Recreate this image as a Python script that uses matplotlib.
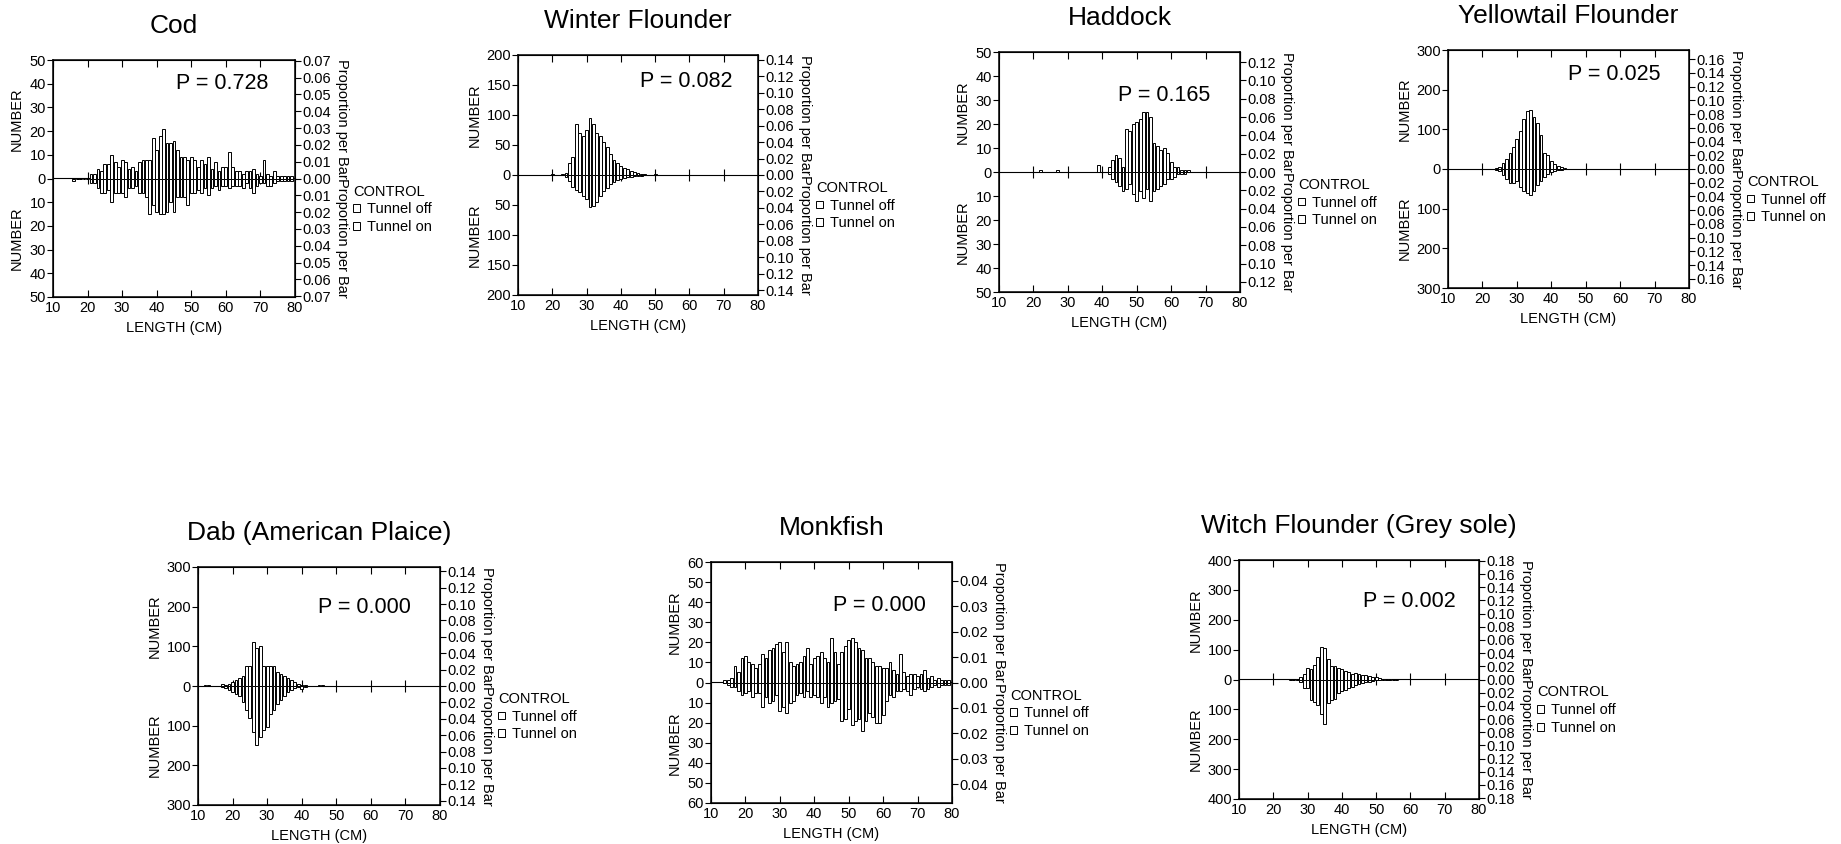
import numpy as np
import matplotlib
matplotlib.use('Agg')
import matplotlib.pyplot as plt
from matplotlib.patches import Patch

plt.rcParams['font.family'] = ['Liberation Sans', 'DejaVu Sans']

# length frequencies in 1 cm bins: tunnel off drawn upward, tunnel on downward
cod_start = 16
cod_off = [0, 0, 0, 0, 0,
           2, 2, 4, 3, 6, 6, 10, 7, 5,
           8, 7, 4, 5, 3, 7, 8, 8, 8, 17,
           12, 18, 21, 15, 15, 16, 12, 9, 9, 8,
           9, 8, 5, 8, 6, 9, 4, 7, 3, 5,
           5, 11, 5, 3, 3, 2, 3, 3, 4, 2,
           1, 8, 2, 1, 3, 1, 1, 1, 1, 1]
cod_on = [1, 0, 0, 0, 0,
          2, 2, 4, 6, 6, 5, 10, 6, 6,
          6, 8, 4, 4, 3, 6, 6, 8, 15, 11,
          14, 15, 15, 14, 10, 14, 8, 8, 8, 11,
          6, 6, 5, 6, 4, 7, 4, 3, 5, 3,
          3, 4, 3, 3, 3, 4, 2, 4, 6, 3,
          2, 2, 3, 3, 2, 1, 1, 1, 1, 1]

wf_start = 20
wf_off = [1, 0, 0, 1, 3, 20, 30, 85, 70, 65,
          75, 95, 85, 70, 65, 55, 47, 35, 25, 20,
          15, 12, 10, 6, 5, 3, 1, 1, 0, 0, 1]
wf_on = [0, 0, 0, 0, 3, 10, 20, 25, 28, 35,
         40, 54, 52, 45, 35, 27, 22, 15, 12, 8,
         6, 5, 4, 3, 2, 1, 1, 0, 0, 0, 0]

had_start = 20
had_off = [0, 0, 1, 0, 0, 0, 0, 1, 0, 0,
           0, 0, 0, 0, 0, 0, 0, 0, 0, 3,
           0, 0, 2, 5, 7, 6, 2, 18, 17, 20,
           21, 22, 25, 25, 23, 12, 11, 9, 10, 8,
           4, 2, 2, 1, 1, 1, 0]
had_on = [0, 0, 0, 0, 0, 0, 0, 0, 0, 0,
          0, 0, 0, 0, 0, 0, 0, 0, 0, 0,
          0, 0, 1, 3, 4, 6, 8, 7, 5, 9,
          12, 8, 11, 7, 12, 8, 7, 6, 5, 3,
          3, 2, 1, 1, 1, 0, 0]

yt_start = 22
yt_off = [0, 1, 2, 5, 15, 25, 40, 55, 75, 95,
          125, 145, 150, 130, 115, 85, 40, 35, 20, 12,
          8, 4, 2, 1, 1]
yt_on = [0, 1, 2, 5, 15, 25, 35, 35, 30, 45,
         55, 60, 65, 55, 40, 30, 20, 12, 8, 5,
         3, 2, 1, 0, 0]

dab_start = 12
dab_off = [2, 2, 1, 0, 0, 4, 2, 5, 10, 15,
           20, 25, 50, 50, 110, 95, 100, 50, 50, 50,
           50, 35, 30, 25, 20, 15, 10, 5, 3, 2,
           0, 0, 0, 2, 2, 0]
dab_on = [1, 1, 0, 0, 0, 3, 5, 10, 15, 20,
          25, 40, 60, 80, 115, 148, 128, 112, 103, 70,
          60, 45, 35, 25, 15, 10, 6, 3, 8, 2,
          0, 0, 0, 0, 0, 0]

mk_start = 14
mk_off = [1, 1, 2, 8, 5, 12,
          13, 10, 9, 7, 9, 14, 12, 16, 17, 19,
          20, 15, 20, 10, 8, 9, 10, 13, 17, 9,
          12, 13, 15, 12, 10, 22, 15, 9, 15, 18,
          21, 22, 20, 17, 16, 12, 12, 10, 8, 8,
          7, 7, 10, 6, 4, 14, 5, 3, 4, 4,
          3, 4, 6, 2, 3, 1, 2, 1, 1, 1]
mk_on = [0, 1, 2, 2, 4, 6,
         5, 4, 7, 5, 5, 12, 7, 10, 9, 6,
         14, 12, 15, 10, 9, 6, 5, 7, 4, 7,
         6, 7, 10, 7, 12, 10, 9, 8, 19, 18,
         13, 21, 19, 18, 24, 19, 15, 17, 20, 20,
         16, 9, 6, 7, 4, 4, 3, 4, 6, 3,
         2, 3, 4, 3, 2, 1, 2, 1, 1, 1]

wt_start = 25
wt_off = [0, 0, 2, 10, 20, 40, 35, 50, 75, 110,
          105, 70, 45, 45, 40, 35, 30, 25, 20, 22,
          18, 15, 15, 12, 10, 8, 5, 3, 2, 1,
          0, 0]
wt_on = [0, 0, 2, 8, 30, 30, 70, 75, 85, 115,
         150, 80, 70, 65, 45, 40, 35, 30, 25, 20,
         15, 12, 10, 8, 5, 3, 2, 1, 0, 0,
         0, 0]

W, H = 1841, 844
fig = plt.figure(figsize=(W / 100, H / 100), dpi=100)


def panel(box, title, start, off, on, nmax, nstep, pedge, ptop, pstep, ptext, pxy):
    l, t, r, b = box
    ax = fig.add_axes([l / W, 1 - b / H, (r - l) / W, (b - t) / H])
    x = np.arange(start, start + len(off))
    ax.bar(x, off, width=0.8, color='white', edgecolor='black', linewidth=0.7)
    ax.bar(x, -np.array(on), width=0.8, color='white', edgecolor='black', linewidth=0.7)
    ax.set_xlim(10, 80)
    ax.set_ylim(-nmax, nmax)
    ax.set_xticks(np.arange(10, 81, 10))
    yt = np.arange(-nmax, nmax + 1, nstep)
    ax.set_yticks(yt)
    ax.set_yticklabels([str(abs(v)) for v in yt])
    ax.tick_params(axis='x', direction='in', top=True, length=5, labelsize=10.5, pad=3)
    ax.tick_params(axis='y', direction='out', length=4, labelsize=10.5, pad=1)
    for s in ax.spines.values():
        s.set_linewidth(1.1)

    # zero line with crossing ticks
    zx = ax.secondary_xaxis(0.5)
    zx.set_xticks(np.arange(20, 71, 10))
    zx.set_xticklabels([])
    zx.tick_params(direction='inout', length=8)
    zx.spines['bottom'].set_linewidth(1.1)

    ax2 = ax.twinx()
    ax2.set_ylim(-pedge, pedge)
    n = int(round(ptop / pstep))
    pt = np.arange(-n, n + 1) * pstep
    ax2.set_yticks(pt)
    ax2.set_yticklabels([f'{abs(v):.2f}' for v in pt])
    ax2.tick_params(axis='y', direction='out', length=4, labelsize=10.5, pad=1)

    ax.text(pxy[0], pxy[1], ptext, transform=ax.transAxes, ha='center', va='center', fontsize=15.5)
    ax.annotate(title, xy=(0.5, 1), xycoords='axes fraction', xytext=(0, 34),
                textcoords='offset pixels', ha='center', va='center', fontsize=19)
    ax.annotate('LENGTH (CM)', xy=(0.5, 0), xycoords='axes fraction', xytext=(0, -31),
                textcoords='offset pixels', ha='center', va='center', fontsize=10.5)
    lpad = -22 - 7 * len(str(nmax))
    for yy in (0.75, 0.25):
        ax.annotate('NUMBER', xy=(0, yy), xycoords='axes fraction', xytext=(lpad, 0),
                    textcoords='offset pixels', ha='center', va='center', rotation=90,
                    fontsize=10.5)
        ax.annotate('Proportion per Bar', xy=(1, yy), xycoords='axes fraction', xytext=(47, 0),
                    textcoords='offset pixels', ha='center', va='center', rotation=-90,
                    fontsize=10.5)

    handles = [Patch(facecolor='white', edgecolor='black', linewidth=0.7)] * 2
    ax2.legend(handles, ['Tunnel off', 'Tunnel on'], title='CONTROL', loc='upper left',
               bbox_to_anchor=(1 + 58 / (r - l), 0.5 - 6 / (b - t)), frameon=False,
               fontsize=10.5, title_fontsize=10.5, handlelength=0.45, handleheight=0.45,
               handletextpad=0.5, labelspacing=0.25, borderpad=0, borderaxespad=0,
               alignment='left')
    return ax


panel((53, 60, 295, 297), 'Cod', cod_start, cod_off, cod_on,
      50, 10, 0.0705, 0.07, 0.01, 'P = 0.728', (0.70, 0.90))
panel((518, 55, 758, 295), 'Winter Flounder', wf_start, wf_off, wf_on,
      200, 50, 0.146, 0.14, 0.02, 'P = 0.082', (0.70, 0.89))
panel((999, 52, 1240, 292), 'Haddock', had_start, had_off, had_on,
      50, 10, 0.131, 0.12, 0.02, 'P = 0.165', (0.685, 0.82))
panel((1448, 50, 1689, 288), 'Yellowtail Flounder', yt_start, yt_off, yt_on,
      300, 100, 0.1735, 0.16, 0.02, 'P = 0.025', (0.69, 0.895))
panel((198, 567, 440, 805), 'Dab (American Plaice)', dab_start, dab_off, dab_on,
      300, 100, 0.1453, 0.14, 0.02, 'P = 0.000', (0.686, 0.83))
panel((711, 562, 952, 803), 'Monkfish', mk_start, mk_off, mk_on,
      60, 10, 0.0473, 0.04, 0.01, 'P = 0.000', (0.70, 0.82))
panel((1239, 560, 1479, 799), 'Witch Flounder (Grey sole)', wt_start, wt_off, wt_on,
      400, 100, 0.1815, 0.18, 0.02, 'P = 0.002', (0.71, 0.825))

fig.savefig('out.png', dpi=100)
